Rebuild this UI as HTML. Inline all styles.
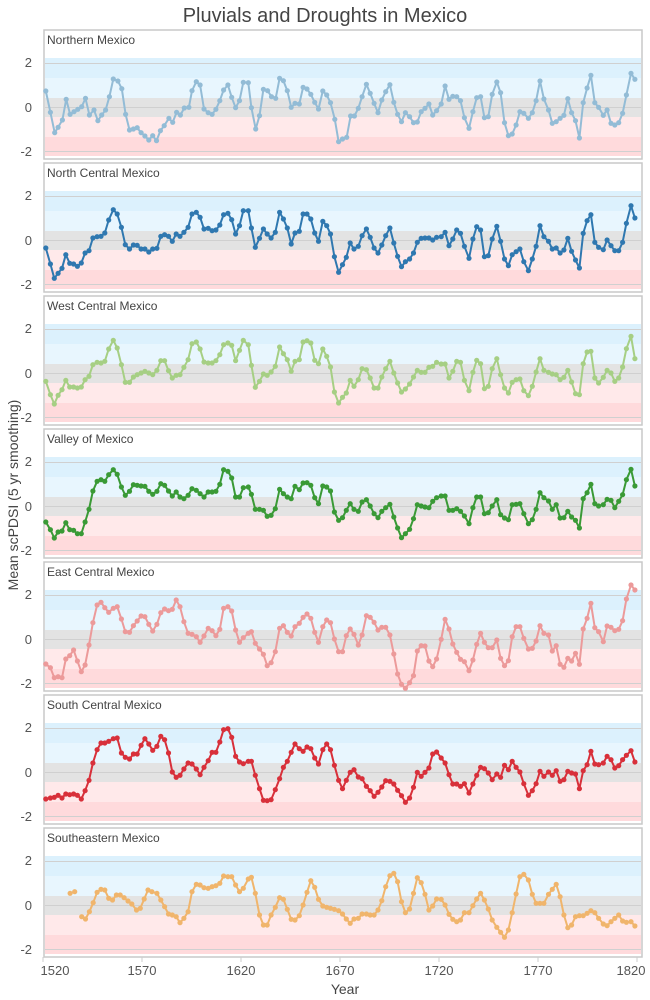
<!DOCTYPE html>
<html><head><meta charset="utf-8"><style>
html,body{margin:0;padding:0;background:#fff;}
svg{display:block;font-family:"Liberation Sans",sans-serif;}
</style></head><body>
<svg id="s" width="650" height="1000" viewBox="0 0 650 1000" xmlns="http://www.w3.org/2000/svg">
<text x="325" y="22" text-anchor="middle" font-size="20" fill="#444">Pluvials and Droughts in Mexico</text>
<text transform="translate(18,495) rotate(-90)" text-anchor="middle" font-size="14" fill="#444">Mean scPDSI (5 yr smoothing)</text>
<text x="345" y="994" text-anchor="middle" font-size="14" fill="#444">Year</text>
</svg>
<script>
(function(){
var S=document.getElementById('s'),NS='http://www.w3.org/2000/svg';
function el(t,a,txt){var e=document.createElementNS(NS,t);for(var k in a)e.setAttribute(k,a[k]);if(txt!==undefined)e.textContent=txt;S.appendChild(e);return e;}
var names=["Northern Mexico","North Central Mexico","West Central Mexico","Valley of Mexico","East Central Mexico","South Central Mexico","Southeastern Mexico"];
var cols=["#93bcd6","#2f78b0","#a6cf84","#3a9a36","#ec9a9a","#d8303a","#f0b56c"];
var offs=[50,184,318,452,585,718,850];
var XS=2.592;
var D=[
"15,123;27,187;38,248;47,232;58,210;68,148;78,193;88,185;98,178;108,170;118,145;128,195;140,180;150,212;160,195;170,180;180,140;190,87;202,93;212,116;222,193;232,240;242,237;252,233;262,248;272,258;282,270;292,257;302,272;312,242;322,227;334,205;344,217;354,187;364,195;374,174;386,172;394,122;405,95;415,105;425,177;436,188;446,193;456,178;466,152;476,120;487,105;497,142;507,173;517,152;527,97;540,98;548,173;559,237;569,197;579,118;590,122;600,140;611,145;621,85;631,92;641,122;651,172;661,160;672,162;682,112;692,117;702,133;712,157;722,177;733,123;743,135;753,158;764,208;774,275;784,267;795,262;805,198;815,198;825,175;835,140;846,103;856,130;866,160;876,188;886,150;896,125;907,104;917,157;927,193;937,215;947,188;958,200;968,218;978,216;988,185;998,175;1008,162;1018,195;1028,182;1040,162;1050,108;1060,148;1070,139;1080,140;1090,152;1100,203;1112,235;1122,185;1132,143;1142,140;1152,203;1162,200;1172,133;1184,96;1194,128;1204,218;1214,257;1224,252;1234,225;1244,185;1254,190;1266,205;1276,188;1286,152;1296,93;1306,147;1318,180;1328,220;1338,215;1348,205;1358,196;1368,146;1378,188;1388,212;1398,264;1408,158;1418,114;1428,76;1438,158;1448,172;1460,196;1470,180;1480,220;1490,225;1500,218;1510,190;1520,135;1532,70;1542,88",
"15,192;27,240;37,283;47,268;57,253;67,212;77,238;87,240;97,247;107,237;117,207;127,200;137,162;148,158;158,157;168,147;178,108;190,77;200,90;211,130;221,182;232,195;242,183;252,184;262,195;272,195;282,204;292,195;303,193;313,157;323,152;333,157;343,172;353,150;363,157;373,145;384,130;394,90;405,85;415,100;425,135;436,133;446,140;456,138;466,123;476,92;487,88;497,107;507,150;517,125;527,80;540,80;548,132;558,190;569,163;579,135;589,150;599,162;610,145;621,85;631,105;641,132;651,180;661,147;672,142;682,90;692,90;702,105;712,147;722,172;733,112;743,125;753,150;763,218;774,265;784,242;794,220;804,177;814,195;825,187;835,155;846,135;856,160;866,192;876,207;886,183;896,155;907,132;917,177;927,217;937,248;947,233;958,225;968,207;978,175;988,163;998,162;1008,162;1018,168;1028,160;1040,158;1050,145;1060,185;1070,165;1080,138;1090,148;1100,187;1112,223;1122,165;1132,128;1142,138;1152,218;1162,215;1172,165;1184,127;1194,172;1204,225;1214,245;1224,212;1234,203;1244,195;1254,233;1266,260;1276,225;1286,187;1296,125;1306,158;1318,172;1328,195;1338,192;1348,207;1358,198;1368,163;1378,202;1388,228;1398,252;1408,148;1418,110;1428,92;1438,175;1448,190;1460,197;1470,168;1480,185;1490,200;1500,200;1510,175;1520,118;1532,65;1542,102",
"15,190;27,230;37,258;47,232;57,215;67,187;77,207;87,207;97,210;107,207;117,185;127,175;137,140;148,133;158,135;168,130;178,93;190,67;200,90;211,140;221,193;232,193;242,177;252,170;262,165;272,160;282,165;292,170;303,157;313,128;323,128;333,158;343,180;353,172;363,170;373,148;384,125;394,77;405,72;415,93;425,132;436,135;446,135;456,128;466,110;476,80;487,75;497,82;507,128;517,97;527,67;540,80;548,142;558,208;569,190;579,168;589,172;599,162;610,145;621,87;631,107;641,125;651,160;661,130;672,125;682,72;692,68;702,75;712,127;722,137;733,93;743,115;753,147;763,222;774,255;784,238;794,225;804,187;814,205;825,185;835,152;846,155;856,180;866,210;876,210;886,177;896,152;907,130;917,165;927,195;937,222;947,213;958,198;968,177;978,157;988,163;998,163;1008,148;1018,145;1028,133;1040,138;1050,138;1060,180;1070,160;1080,130;1090,133;1100,187;1112,218;1122,163;1132,127;1142,137;1152,212;1162,205;1172,152;1184,122;1194,170;1204,210;1214,225;1224,193;1234,185;1244,183;1254,218;1266,233;1276,205;1286,162;1296,122;1306,157;1318,163;1328,168;1338,170;1348,185;1358,178;1368,157;1378,192;1388,227;1398,230;1408,137;1418,102;1428,100;1438,180;1448,195;1460,178;1470,157;1480,165;1490,190;1500,180;1510,147;1520,92;1532,55;1542,122",
"15,210;27,233;37,258;47,240;57,237;67,212;77,233;87,235;97,245;107,245;117,210;127,172;137,117;148,88;158,83;168,88;178,68;190,53;200,67;211,105;221,130;232,118;242,98;252,100;262,102;272,103;282,118;292,127;303,118;313,95;323,100;333,117;343,132;353,120;363,135;373,140;384,130;394,110;405,115;415,125;425,135;436,120;446,120;456,118;466,97;476,53;487,58;497,78;507,135;517,135;527,107;540,105;548,127;558,172;569,172;579,175;589,193;599,190;610,170;621,112;631,125;641,135;651,140;661,103;672,113;682,93;692,92;702,100;712,137;722,155;733,102;743,105;753,117;763,180;774,205;784,197;794,175;804,155;814,172;825,178;835,150;846,143;856,162;866,185;876,197;886,178;896,167;907,157;917,195;927,228;937,257;947,245;958,232;968,200;978,158;988,162;998,165;1008,167;1018,148;1028,137;1040,132;1050,132;1060,175;1070,175;1080,170;1090,178;1100,192;1112,215;1122,167;1132,135;1142,135;1152,185;1162,182;1172,162;1184,143;1194,188;1204,198;1214,203;1224,158;1234,157;1244,155;1254,185;1266,215;1276,203;1286,172;1296,122;1306,137;1318,147;1328,172;1338,158;1348,198;1358,197;1368,178;1378,195;1388,205;1398,228;1408,140;1418,122;1428,97;1438,155;1448,162;1460,158;1470,142;1480,145;1490,167;1500,148;1510,128;1520,83;1532,52;1542,102",
"15,237;27,248;37,278;47,275;57,278;67,222;77,212;87,195;97,228;107,260;117,240;127,180;137,113;148,60;158,52;168,68;178,82;190,70;200,65;211,102;221,140;232,142;242,122;252,108;262,93;272,95;282,118;292,138;303,118;313,83;323,72;333,77;343,73;353,45;363,65;373,110;384,145;394,148;405,155;415,172;425,153;436,130;446,137;456,152;466,133;476,70;487,65;497,78;507,135;517,172;527,158;540,145;548,140;558,175;569,192;579,208;589,242;599,233;610,200;621,130;631,122;641,142;651,153;661,125;672,115;682,97;692,87;702,100;712,142;722,172;733,125;743,105;753,113;763,162;774,200;784,200;794,152;804,132;814,148;825,180;835,150;846,92;856,97;866,112;876,135;886,127;896,127;907,150;917,207;927,267;937,298;947,310;958,293;968,272;978,198;988,182;998,183;1008,228;1018,245;1028,222;1040,163;1050,103;1060,132;1070,177;1080,202;1090,223;1100,230;1112,257;1122,225;1132,178;1142,145;1152,172;1162,188;1172,188;1184,165;1194,220;1204,242;1214,227;1224,155;1234,125;1244,125;1254,160;1266,192;1276,190;1286,168;1296,122;1306,145;1318,150;1328,198;1338,182;1348,238;1358,247;1368,220;1378,228;1388,205;1398,238;1408,132;1418,100;1428,55;1438,128;1448,140;1460,170;1470,123;1480,127;1490,137;1500,133;1510,107;1520,42;1532,0;1542,15",
"15,243;27,240;37,238;47,232;57,240;67,228;77,230;87,228;97,232;107,243;117,218;127,187;137,135;148,95;158,75;168,75;178,70;190,62;200,60;211,105;221,118;232,123;242,108;252,108;262,82;272,62;282,78;292,97;303,85;313,55;323,65;333,105;343,162;353,178;363,172;373,153;384,135;394,138;405,153;415,170;425,148;436,128;446,103;456,103;466,72;476,35;487,32;497,58;507,115;517,132;527,137;540,130;548,130;558,172;569,212;579,247;589,248;599,245;610,215;621,182;631,148;641,130;651,103;661,78;672,92;682,100;692,87;702,92;712,120;722,138;733,95;743,78;753,95;763,142;774,187;784,212;794,187;804,163;814,155;825,177;835,182;846,205;856,218;866,235;876,223;886,207;896,188;907,190;917,198;927,217;937,233;947,253;958,240;968,208;978,163;988,175;998,163;1008,150;1018,108;1028,102;1040,120;1050,135;1060,170;1070,198;1080,198;1090,205;1100,197;1112,225;1122,198;1132,172;1142,148;1152,152;1162,165;1172,185;1184,168;1194,178;1204,142;1214,155;1224,130;1234,148;1244,162;1254,197;1266,232;1276,218;1286,197;1296,160;1306,175;1318,162;1328,172;1338,158;1348,190;1358,185;1368,160;1378,165;1388,168;1398,212;1408,158;1418,140;1428,100;1438,138;1448,140;1460,135;1470,115;1480,125;1490,150;1500,143;1510,125;1520,112;1532,98;1542,132",
"78,130;90,125|108,200;118,207;128,185;138,158;148,127;158,118;168,120;178,145;188,150;198,135;208,135;218,143;228,153;238,162;250,180;260,175;270,147;280,120;290,125;303,130;313,150;323,170;333,192;343,195;353,200;363,218;373,205;384,185;394,125;405,103;415,105;425,113;436,115;446,110;456,107;466,100;476,78;487,80;497,80;507,105;517,125;527,115;540,87;548,82;558,130;569,195;579,225;589,225;599,195;610,172;621,143;631,148;641,178;651,208;661,210;672,197;682,165;692,127;702,92;712,112;722,148;733,168;743,172;753,175;763,178;774,182;784,192;794,207;804,220;814,207;825,205;835,192;846,192;856,195;866,195;876,180;886,152;896,110;907,77;917,70;927,95;937,155;947,188;958,177;968,130;978,83;988,98;998,133;1008,180;1018,168;1028,147;1040,148;1050,165;1060,193;1070,208;1080,215;1090,210;1100,188;1112,188;1122,167;1132,147;1142,130;1152,150;1162,177;1172,210;1184,232;1194,247;1204,262;1214,240;1224,188;1234,132;1244,80;1254,73;1266,90;1276,133;1286,160;1296,160;1306,160;1318,133;1328,118;1338,103;1348,140;1358,195;1368,233;1378,225;1388,200;1398,197;1408,197;1418,190;1428,182;1438,188;1448,205;1460,222;1470,227;1480,215;1490,205;1500,195;1510,213;1520,217;1532,215;1542,228"
];
for(var i=0;i<7;i++){
  var Z=107+133*i, pt=Z-77, pb=Z+52;
  el('rect',{x:44,y:pt,width:598,height:pb-pt,fill:'#fff',stroke:'#c8c8c8','stroke-width':1.5});
  el('rect',{x:45,y:Z-49,width:596,height:20,fill:'#dcf1fd'});
  el('rect',{x:45,y:Z-29,width:596,height:20,fill:'#e8f6fe'});
  el('rect',{x:45,y:Z-9,width:596,height:19,fill:'#e3e3e3'});
  el('rect',{x:45,y:Z+10,width:596,height:20,fill:'#ffe9ea'});
  el('rect',{x:45,y:Z+30,width:596,height:19,fill:'#ffdadc'});
  [Z,Z-44,Z+44].forEach(function(y){el('line',{x1:45,x2:641,y1:y+0.5,y2:y+0.5,stroke:'#d0d0d0','stroke-width':1});});
  el('text',{x:47,y:pt+14,'font-size':12,fill:'#444'},names[i]);
  el('text',{x:32,y:Z-40,'font-size':13,fill:'#555','text-anchor':'end'},'2');
  el('text',{x:32,y:Z+5,'font-size':13,fill:'#555','text-anchor':'end'},'0');
  el('text',{x:32,y:Z+49,'font-size':13,fill:'#555','text-anchor':'end'},'-2');
  D[i].split('|').forEach(function(seg){
    var pts=seg.split(';').map(function(p){var a=p.split(',');return [40+(+a[0])/XS, offs[i]+(+a[1])/3];});
    el('polyline',{points:pts.map(function(p){return p[0].toFixed(1)+','+p[1].toFixed(1);}).join(' '),fill:'none',stroke:cols[i],'stroke-width':2,'stroke-linejoin':'round'});
    pts.forEach(function(p){el('circle',{cx:p[0].toFixed(1),cy:p[1].toFixed(1),r:2.6,fill:cols[i]});});
  });
}
for(var k=0;k<7;k++){var x=43+99*k;
  el('line',{x1:x,x2:x,y1:957,y2:962,stroke:'#ccc'});
  el('text',{x:(k==0?x+12:(k==6?x-6:x)),y:975,'font-size':13,fill:'#555','text-anchor':'middle'},String(1520+50*k));}
})();
</script>
</body></html>
